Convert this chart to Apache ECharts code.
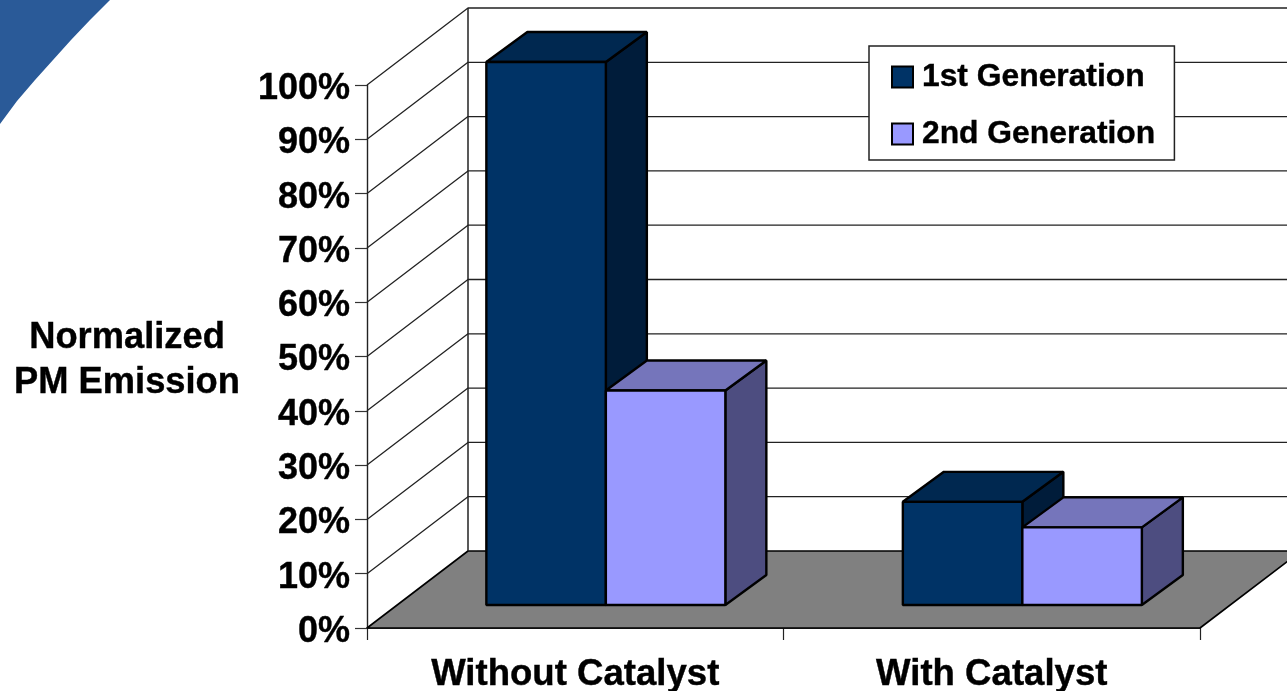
<!DOCTYPE html>
<html>
<head>
<meta charset="utf-8">
<style>html,body{margin:0;padding:0;background:#fff}#chart{width:1287px;height:691px}</style>
<script src="https://cdn.jsdelivr.net/npm/echarts@6/dist/echarts.min.js"></script>
</head>
<body>
<div id="chart"></div>
<script>
// Normalized PM emission by engine generation, with and without catalyst
const categories = ['Without Catalyst', 'With Catalyst'];
const firstGeneration = [100, 19];
const secondGeneration = [39.5, 14.3];
const percentTicks = [10, 20, 30, 40, 50, 60, 70, 80, 90, 100];

const FONT = '"Liberation Sans", Arial, sans-serif';
// Oblique projection of the box: depth of the chart floor and of one bar
const WALL_DX = 101, WALL_DY = -77;
const BAR_DX = 41, BAR_DY = -30;
const BAR_FRONT_DX = 30.6, BAR_FRONT_DY = -23;
const BAR_WIDTH = 119.5;
// Faint outline that thickens the bold labels
const HEAVY_TEXT = { textBorderColor: '#000', textBorderWidth: 0.4 };

function poly(points, fill, stroke, lineWidth) {
  return {
    type: 'polygon',
    shape: { points },
    style: { fill, stroke: stroke || '#000', lineWidth: lineWidth === undefined ? 2.4 : lineWidth, lineJoin: 'bevel' }
  };
}

// A bar drawn as three faces; offset selects its slot in the category band
function boxRenderer(offset, faces) {
  return function (params, api) {
    const top = api.coord([api.value(0), api.value(1)]);
    const base = api.coord([api.value(0), 0]);
    const x0 = top[0] + BAR_FRONT_DX + offset * BAR_WIDTH;
    const x1 = x0 + BAR_WIDTH;
    const yt = top[1] + BAR_FRONT_DY;
    const yb = base[1] + BAR_FRONT_DY;
    return {
      type: 'group',
      children: [
        poly([[x1, yt], [x1 + BAR_DX, yt + BAR_DY], [x1 + BAR_DX, yb + BAR_DY], [x1, yb]], faces.side),
        poly([[x0, yt], [x0 + BAR_DX, yt + BAR_DY], [x1 + BAR_DX, yt + BAR_DY], [x1, yt]], faces.top),
        poly([[x0, yt], [x1, yt], [x1, yb], [x0, yb]], faces.front)
      ]
    };
  };
}

// Gridline running up the side wall and along the back wall
function renderWallLine(params, api) {
  const v = api.value(0);
  const sys = params.coordSys;
  const y = api.coord([0, v])[1];
  const x = sys.x;
  return {
    type: 'polyline',
    shape: { points: [[x, y], [x + WALL_DX, y + WALL_DY], [x + sys.width + WALL_DX, y + WALL_DY]] },
    style: { fill: 'none', stroke: '#222222', lineWidth: 1.3, lineJoin: 'bevel' }
  };
}

function renderFloor(params, api) {
  const sys = params.coordSys;
  const yb = sys.y + sys.height;
  const x = sys.x;
  return {
    type: 'group',
    children: [
      poly([[x, yb], [x + WALL_DX, yb + WALL_DY], [x + sys.width + WALL_DX, yb + WALL_DY], [x + sys.width, yb]], '#808080', '#000', 1.6),
      {
        type: 'line',
        shape: { x1: x + WALL_DX, y1: sys.y + WALL_DY, x2: x + WALL_DX, y2: yb + WALL_DY },
        style: { stroke: '#222222', lineWidth: 1.5 }
      }
    ]
  };
}

const chart = echarts.init(document.getElementById('chart'), null, { renderer: 'canvas' });
chart.setOption({
  animation: false,
  backgroundColor: '#ffffff',
  graphic: [{
    type: 'polygon',
    z: 0,
    shape: { points: [[0, 0], [110, 0], [90, 20], [71, 40], [53, 60], [35, 80], [17, 101], [0, 124]] },
    style: { fill: '#2a5a98' }
  }],
  grid: { left: 367, right: 87, top: 85, bottom: 63, containLabel: false, outerBoundsMode: 'none' },
  legend: {
    show: true,
    orient: 'vertical',
    left: 869,
    top: 46,
    z: 20,
    data: ['1st Generation', '2nd Generation'],
    backgroundColor: '#ffffff',
    borderColor: '#222222',
    borderWidth: 1.5,
    padding: [13, 19, 8, 22],
    itemGap: 21,
    itemWidth: 21,
    itemHeight: 21,
    icon: 'rect',
    selectedMode: false,
    textStyle: Object.assign({ fontFamily: FONT, fontWeight: 'bold', fontSize: 31.8, color: '#000', padding: [0, 0, 0, 4], lineHeight: 36 }, HEAVY_TEXT)
  },
  xAxis: {
    type: 'category',
    data: categories,
    boundaryGap: true,
    axisLine: { show: true, lineStyle: { color: '#000', width: 1.6 } },
    axisTick: { show: true, length: 12, alignWithLabel: false, lineStyle: { color: '#222', width: 1.2 } },
    axisLabel: Object.assign({ interval: 0, margin: 28, fontFamily: FONT, fontWeight: 'bold', fontSize: 36.6, color: '#000' }, HEAVY_TEXT),
    splitLine: { show: false }
  },
  yAxis: {
    type: 'value',
    min: 0,
    max: 100,
    interval: 10,
    name: 'Normalized\nPM Emission',
    nameLocation: 'middle',
    nameRotate: 0,
    nameGap: 240,
    nameTextStyle: Object.assign({ fontFamily: FONT, fontWeight: 'bold', fontSize: 36.3, color: '#000', align: 'center', verticalAlign: 'top', lineHeight: 45, padding: [-41, 0, 0, 0] }, HEAVY_TEXT),
    axisLine: { show: true, lineStyle: { color: '#222', width: 1.4 } },
    axisTick: { show: true, length: 12, lineStyle: { color: '#333', width: 1.2 } },
    // A short line box under a top anchor lowers each label a little below its tick
    axisLabel: Object.assign({ margin: 17, fontFamily: FONT, fontWeight: 'bold', fontSize: 36, color: '#000', formatter: '{value}%', verticalAlign: 'top', lineHeight: 8 }, HEAVY_TEXT),
    splitLine: { show: false }
  },
  series: [
    {
      type: 'custom', name: 'wallLines', silent: true, z: 1, clip: false,
      coordinateSystem: 'cartesian2d',
      data: percentTicks.map(v => [v]),
      encode: { y: 0 },
      renderItem: renderWallLine
    },
    {
      type: 'custom', name: 'floor', silent: true, z: 2, clip: false,
      coordinateSystem: 'cartesian2d',
      data: [[0]],
      encode: { y: 0 },
      renderItem: renderFloor
    },
    {
      type: 'custom', name: '1st Generation', z: 3, clip: false,
      coordinateSystem: 'cartesian2d',
      itemStyle: { color: '#003366', borderColor: '#000', borderWidth: 2 },
      data: firstGeneration.map((v, i) => [i, v]),
      encode: { x: 0, y: 1 },
      renderItem: boxRenderer(-1, { front: '#003366', top: '#002850', side: '#001c3a' })
    },
    {
      type: 'custom', name: '2nd Generation', z: 4, clip: false,
      coordinateSystem: 'cartesian2d',
      itemStyle: { color: '#9999ff', borderColor: '#000', borderWidth: 2 },
      data: secondGeneration.map((v, i) => [i, v]),
      encode: { x: 0, y: 1 },
      renderItem: boxRenderer(0, { front: '#9999ff', top: '#7575bb', side: '#4d4d80' })
    }
  ]
});
</script>
</body>
</html>
